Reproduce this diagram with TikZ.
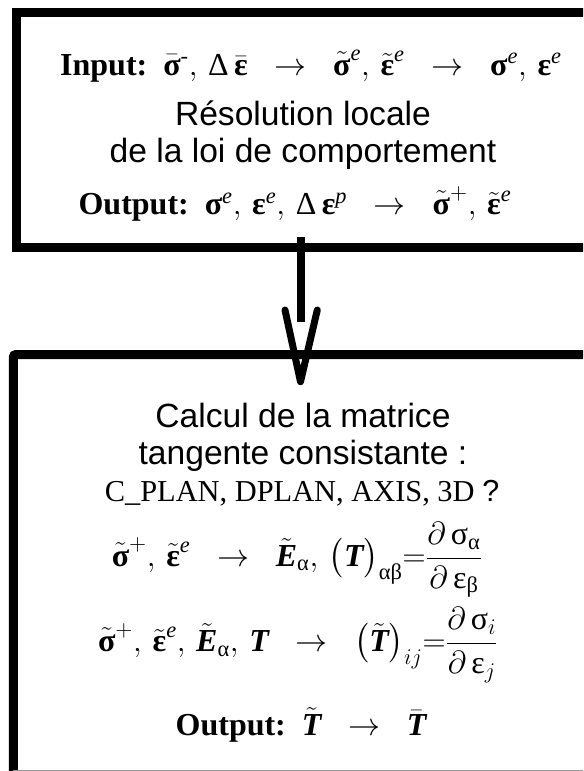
\RequirePackage{fix-cm}
\documentclass[tikz,border=0pt]{standalone}
\usepackage{amsmath}
\usepackage[no-math]{fontspec}
\setmainfont{Liberation Serif}
\newfontfamily\arial{Liberation Sans}
\usepackage{tikz}

\newcommand\bsig{\text{\bfseries σ}}
\newcommand\beps{\text{\bfseries ε}}
\newcommand\nsig{\text{σ}}
\newcommand\neps{\text{ε}}
\newcommand\gr[1]{\text{#1}}
\newcommand\ie[1]{^{\text{\itshape #1}}}
\newcommand\bE{\text{\bfseries\itshape E}}
\newcommand\bT{\text{\bfseries\itshape T}}
\newcommand\tto{\;\;\rightarrow\;\;}
\newcommand\cm{,\,}

\tikzset{
  frame/.style={line width=6.75pt, line join=miter},
  sanstext/.style={font=\arial\fontsize{25.2}{27.75}\selectfont, align=center, inner sep=0.75pt},
  seriftext/.style={font=\fontsize{24}{28}\selectfont, inner sep=0.75pt},
}

\begin{document}
\begin{tikzpicture}[x=0.75pt,y=0.75pt,yscale=-1,xscale=1]
\useasboundingbox (0,0) rectangle (583,771);
\clip (0,0) rectangle (583,771);

%Shape: open box [upper]
\draw [frame] (600,12.7) -- (16,12.7) -- (16,247.5) -- (600,247.5) ;
%Shape: open box [lower]
\draw [frame, rounded corners=2] (600,354.5) -- (13.3,354.5) -- (13.3,790) ;
%Straight Lines [lower edge]
\draw [color={rgb, 255:red, 150; green, 150; blue, 150 }, line width=0.75] (13.3,770.5) -- (600,770.5) ;

%Straight Lines [arrow]
\coordinate (stem) at (301,236.7) ;
\coordinate (stemend) at (301,321.7) ;
\coordinate (tip) at (300.5,381.7) ;
\coordinate (wingl) at (285,310) ;
\coordinate (wingr) at (317.3,310) ;
\draw [line width=6pt] (stem) -- (stemend) ;
\draw [line width=5.25pt, line cap=round, line join=round] (wingl) -- (tip) -- (wingr) ;

% Text Node
\node (input) [seriftext] at (311,66) {\textbf{Input:}\ \ $\bar{\bsig}^{\text{-}}\cm\text{Δ}\,\bar{\beps}\tto\tilde{\bsig}\ie{e}\cm\tilde{\beps}\ie{e}\tto\bsig\ie{e}\cm\beps\ie{e}$};
% Text Node
\node (resol) [sanstext] at (303,135) {Résolution locale\\de la loi de comportement};
% Text Node
\node (output) [seriftext] at (295,204) {\textbf{Output:}\ \ $\bsig\ie{e}\cm\beps\ie{e}\cm\text{Δ}\,\beps\ie{p}\tto\tilde{\bsig}^{+}\cm\tilde{\beps}\ie{e}$};

% Text Node
\node (calcul) [sanstext] at (303,437) {Calcul de la matrice\\tangente consistante :};
% Text Node
\node (modes) [seriftext] at (302,493) {\fontsize{22.8}{28}\selectfont C\_PLAN, DPLAN, AXIS, 3D {\arial ?}};
% Text Node
\node (eqone) [seriftext] at (297,560) {$\tilde{\bsig}^{+}\cm\tilde{\beps}\ie{e}\tto\tilde{\bE}_{\gr{α}}\cm\bigl(\bT\bigr)_{\gr{αβ}}{=}\dfrac{\partial\,\nsig_{\gr{α}}}{\partial\,\neps_{\gr{β}}}$};
% Text Node
\node (eqtwo) [seriftext] at (298,645) {$\tilde{\bsig}^{+}\cm\tilde{\beps}\ie{e}\cm\tilde{\bE}_{\gr{α}}\cm\bT\tto\bigl(\tilde{\bT}\bigr)_{ij}{=}\dfrac{\partial\,\nsig_{i}}{\partial\,\neps_{j}}$};
% Text Node
\node (outtwo) [seriftext] at (301,725) {\textbf{Output:}\ \ $\tilde{\bT}\tto\bar{\bT}$};

\end{tikzpicture}
\end{document}
